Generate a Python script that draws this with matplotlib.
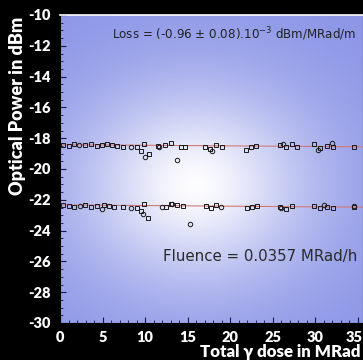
import numpy as np
import matplotlib
matplotlib.use("Agg")
import matplotlib.pyplot as plt
from matplotlib.ticker import MultipleLocator
from matplotlib.transforms import ScaledTranslation

# ---------------- data ----------------
x_ticks = [0, 5, 10, 15, 20, 25, 30, 35]
y_ticks = [-10, -12, -14, -16, -18, -20, -22, -24, -26, -28, -30]

# upper series (open squares)
top_sq_dose = [0.3, 1.0, 1.6, 2.9, 3.6, 4.3, 4.9, 5.5, 6.1, 6.7, 7.4, 9.0, 9.5, 9.9, 10.4,
               11.5, 12.3, 13.0, 14.2, 14.7, 17.0, 17.6, 18.3, 19.0, 21.9, 22.4, 23.0,
               25.9, 26.6, 27.3, 27.9, 29.9, 30.6, 31.4, 32.1, 34.6]
top_sq_power = [-18.45, -18.50, -18.40, -18.45, -18.35, -18.50, -18.45, -18.40, -18.45, -18.50, -18.55,
                -18.55, -18.80, -18.35, -19.05, -18.50, -18.45, -18.30, -18.55, -18.60, -18.55, -18.70,
                -18.45, -18.60, -18.75, -18.60, -18.50, -18.45, -18.60, -18.40, -18.55, -18.40, -18.65,
                -18.50, -18.60, -18.55]
top_ci_dose = [2.2, 8.3, 10.0, 11.6, 13.8, 17.9, 26.2, 30.3, 31.9]
top_ci_power = [-18.45, -18.55, -19.20, -18.55, -19.40, -18.85, -18.35, -18.75, -18.30]

# lower series
bot_sq_dose = [0.3, 1.0, 1.6, 2.9, 3.6, 4.3, 5.2, 5.8, 6.4, 7.4, 9.0, 9.5, 9.9, 10.3,
               12.5, 13.1, 13.8, 14.4, 17.1, 17.7, 18.3, 22.0, 22.6, 23.2,
               25.9, 26.6, 27.3, 29.9, 30.6, 31.4, 32.1, 34.6]
bot_sq_power = [-22.35, -22.40, -22.45, -22.35, -22.45, -22.40, -22.35, -22.40, -22.45, -22.45,
                -22.50, -22.70, -22.30, -23.20, -22.45, -22.30, -22.35, -22.40, -22.40, -22.55, -22.35,
                -22.55, -22.45, -22.40, -22.45, -22.60, -22.40, -22.40, -22.55, -22.45, -22.55, -22.45]
bot_ci_dose = [2.3, 4.9, 8.4, 9.7, 12.0, 13.2, 15.3, 18.9, 26.0, 31.0, 34.6]
bot_ci_power = [-22.40, -22.60, -22.55, -22.95, -22.45, -22.30, -23.55, -22.45, -22.55, -22.35, -22.40]

fit_dose = [0.0, 35.5]
fit_top = [-18.42, -18.56]
fit_bot = [-22.33, -22.48]

loss_text = "Loss = (-0.96 \u00b1 0.08).10$^{-3}$ dBm/MRad/m"
fluence_text = "Fluence = 0.0357 MRad/h"
xlabel = "Total \u03b3 dose in MRad"
ylabel = "Optical Power in dBm"

# ---------------- figure ----------------
W, H = 363, 360
fig = plt.figure(figsize=(W / 100, H / 100), dpi=100, facecolor="black")
left_px, right_px, top_px, bot_px = 60, 363, 15, 323
ax = fig.add_axes([left_px / W, 1 - bot_px / H, (right_px - left_px) / W, (bot_px - top_px) / H])
xmax = 35.6
ax.set_xlim(0, xmax)
ax.set_ylim(-30, -10)

# radial glow background
nx, ny = 300, 300
gx = np.linspace(0, 1, nx)
gy = np.linspace(0, 1, ny)
GX, GY = np.meshgrid(gx, gy)
pw, ph = right_px - left_px, bot_px - top_px
cx, cy = (195 - left_px) / pw, 1 - (185 - top_px) / ph
dx = (GX - cx) * pw / 120.0
dy = (GY - cy) * ph / 100.0
w = np.exp(-(dx ** 2 + dy ** 2) ** 0.85)
edge = np.array([138, 148, 230]) / 255.0
white = np.array([253, 253, 255]) / 255.0
img = w[..., None] * white + (1 - w[..., None]) * edge
ax.imshow(img, extent=(0, xmax, -30, -10), origin="lower", aspect="auto", zorder=0,
          interpolation="bilinear")

# fit lines
ax.plot(fit_dose, fit_top, color="#d07a7a", lw=0.8, zorder=2)
ax.plot(fit_dose, fit_bot, color="#d07a7a", lw=0.8, zorder=2)

mk = dict(linestyle="none", mfc="none", mec="#1a1a1a", mew=0.7, zorder=3)
ax.plot(top_sq_dose, top_sq_power, marker="s", ms=3.2, **mk)
ax.plot(top_ci_dose, top_ci_power, marker="o", ms=3.2, **mk)
ax.plot(bot_sq_dose, bot_sq_power, marker="s", ms=3.2, **mk)
ax.plot(bot_ci_dose, bot_ci_power, marker="o", ms=3.2, **mk)

# axes styling
for s in ["left", "bottom", "right"]:
    ax.spines[s].set_color("black")
ax.spines["top"].set_color("white")
ax.spines["top"].set_linestyle((0, (3, 1)))
ax.spines["top"].set_linewidth(1.2)

ax.set_xticks(x_ticks)
ax.set_yticks(y_ticks)
ax.xaxis.set_minor_locator(MultipleLocator(1))
ax.yaxis.set_minor_locator(MultipleLocator(0.5))
ax.tick_params(which="both", direction="in", color="#1a1a40", top=False, right=False)
ax.tick_params(which="major", length=4, width=0.8)
ax.tick_params(which="minor", length=2, width=0.6)
ax.tick_params(axis="y", pad=7)
ax.tick_params(axis="x", pad=6)

fam = ["Lato", "DejaVu Sans"]
ax.set_yticklabels([str(v) for v in y_ticks], color="white", fontweight="heavy",
                   fontsize=10.5, family=fam)
xlabs = ax.set_xticklabels([str(v) for v in x_ticks], color="white", fontweight="heavy",
                           fontsize=10.5, family=fam)
# keep the last tick label fully inside the figure edge
last = xlabs[-1]
last.set_horizontalalignment("right")
last.set_transform(last.get_transform() + ScaledTranslation(5 / 100, 0, fig.dpi_scale_trans))

fig.text(18 / W, 1 - 106 / H, ylabel, rotation=90, color="white", fontweight="heavy",
         fontsize=13, family=fam, ha="center", va="center")
fig.text(360 / W, 1 - 352 / H, xlabel, color="white", fontweight="heavy",
         fontsize=12.2, family=fam, ha="right", va="center")

ax.text(112 / W, 1 - 34 / H, loss_text, transform=fig.transFigure, color="#222222",
        fontsize=8.6, family=["DejaVu Sans"], ha="left", va="center", zorder=5)
ax.text(163 / W, 1 - 256 / H, fluence_text, transform=fig.transFigure, color="#2a2a2a",
        fontsize=10.8, family=["DejaVu Sans"], ha="left", va="center", zorder=5)

fig.savefig("out.png", dpi=100, facecolor="black")
